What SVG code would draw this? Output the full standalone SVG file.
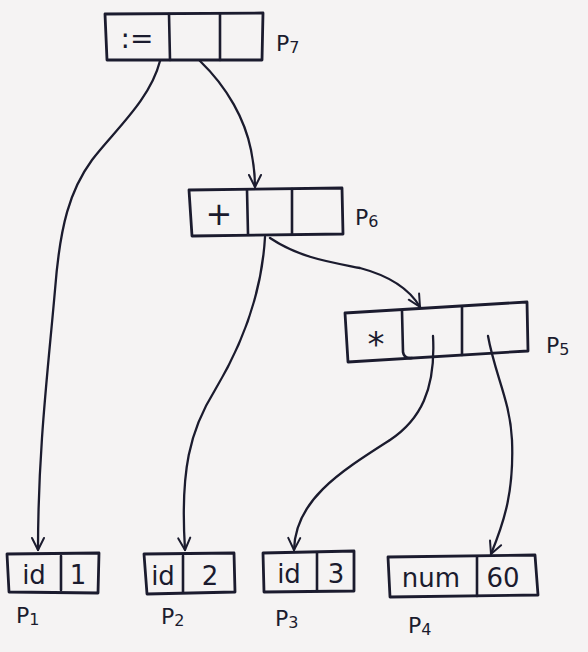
<svg xmlns="http://www.w3.org/2000/svg" width="588" height="652" viewBox="0 0 588 652">
  <style>
    .box { fill: none; stroke: #1b1b2e; stroke-width: 2.8; stroke-linejoin: round; stroke-linecap: round; }
    .div { fill: none; stroke: #1b1b2e; stroke-width: 2.6; stroke-linecap: round; }
    .edge { fill: none; stroke: #1b1b2e; stroke-width: 2.3; stroke-linecap: round; marker-end: url(#arrow); }
    .op { font-family: "DejaVu Sans", "Liberation Sans", sans-serif; fill: #1b1b2e; text-anchor: middle; }
    .cell { font-family: "DejaVu Sans", "Liberation Sans", sans-serif; font-size: 26px; fill: #1b1b2e; text-anchor: middle; }
    .ptr { font-family: "DejaVu Sans", "Liberation Sans", sans-serif; font-size: 22px; fill: #1b1b2e; }
    .sub { font-size: 16px; }
  </style>
  <defs>
    <marker id="arrow" viewBox="0 0 16 16" refX="14" refY="8" markerWidth="16" markerHeight="16" markerUnits="userSpaceOnUse" orient="auto">
      <polyline points="2,2 14,8 2,14" fill="none" stroke="#1b1b2e" stroke-width="2" stroke-linecap="round" stroke-linejoin="round"/>
    </marker>
  </defs>

  <!-- paper -->
  <rect x="0" y="0" width="588" height="652" fill="#f5f3f3"/>

  <!-- p7 : assignment node -->
  <g id="p7">
    <path class="box" d="M105,14 L263,13 L262,60 L107,60 Z"/>
    <line class="div" x1="169" y1="14" x2="170" y2="60"/>
    <line class="div" x1="220" y1="14" x2="220" y2="60"/>
    <text class="op" x="137" y="48" font-size="28">:=</text>
    <text class="ptr" x="276" y="51">P<tspan class="sub" dy="2">7</tspan></text>
  </g>

  <!-- p6 : plus node -->
  <g id="p6">
    <path class="box" d="M189,190 L342,188 L343,234 L192,236 Z"/>
    <line class="div" x1="247" y1="190" x2="248" y2="234"/>
    <line class="div" x1="292" y1="189" x2="292" y2="234"/>
    <text class="op" x="219" y="225" font-size="32">+</text>
    <text class="ptr" x="355" y="225">P<tspan class="sub" dy="2">6</tspan></text>
  </g>

  <!-- p5 : times node -->
  <g id="p5">
    <path class="box" d="M345,313 L527,302 L528,351 L348,362 Z"/>
    <path class="div" d="M402,311 L403,352 Q404,359 412,358"/>
    <line class="div" x1="462" y1="307" x2="462" y2="355"/>
    <text class="op" x="376" y="356" font-size="34">*</text>
    <text class="ptr" x="546" y="353">P<tspan class="sub" dy="2">5</tspan></text>
  </g>

  <!-- leaves -->
  <g id="p1">
    <path class="box" d="M7,554 L99,553 L98,593 L9,592 Z"/>
    <line class="div" x1="61" y1="556" x2="61" y2="590"/>
    <text class="cell" x="34" y="584">id</text>
    <text class="cell" x="78" y="584">1</text>
    <text class="ptr" x="16" y="623">P<tspan class="sub" dy="2">1</tspan></text>
  </g>

  <g id="p2">
    <path class="box" d="M144,554 L234,553 L235,592 L147,594 Z"/>
    <line class="div" x1="183" y1="556" x2="183" y2="592"/>
    <text class="cell" x="163" y="585">id</text>
    <text class="cell" x="210" y="585">2</text>
    <text class="ptr" x="161" y="624">P<tspan class="sub" dy="2">2</tspan></text>
  </g>

  <g id="p3">
    <path class="box" d="M263,553 L354,551 L354,591 L264,592 Z"/>
    <line class="div" x1="317" y1="553" x2="317" y2="591"/>
    <text class="cell" x="289" y="583">id</text>
    <text class="cell" x="336" y="583">3</text>
    <text class="ptr" x="275" y="626">P<tspan class="sub" dy="2">3</tspan></text>
  </g>

  <g id="p4">
    <path class="box" d="M388,557 L535,555 L538,595 L390,597 Z"/>
    <line class="div" x1="477" y1="557" x2="477" y2="596"/>
    <text class="cell" x="431" y="587">num</text>
    <text class="cell" x="503" y="587">60</text>
    <text class="ptr" x="408" y="633">P<tspan class="sub" dy="2">4</tspan></text>
  </g>

  <!-- pointers between nodes -->
  <g id="edges">
    <path class="edge" d="M160,61 C150,100 115,130 92,160 C70,190 60,225 55,290 C48,370 38,450 38,550"/>
    <path class="edge" d="M200,61 C228,88 245,120 251,150 C254,165 255,175 255,187"/>
    <path class="edge" d="M265,237 C262,290 245,340 215,390 C190,430 180,470 185,550"/>
    <path class="edge" d="M270,238 C300,258 330,262 360,268 C390,276 410,290 420,307"/>
    <path class="edge" d="M433,336 C436,390 420,420 390,440 C340,472 295,500 294,550"/>
    <path class="edge" d="M488,336 C495,375 510,400 512,440 C514,490 505,520 491,554"/>
  </g>
</svg>
